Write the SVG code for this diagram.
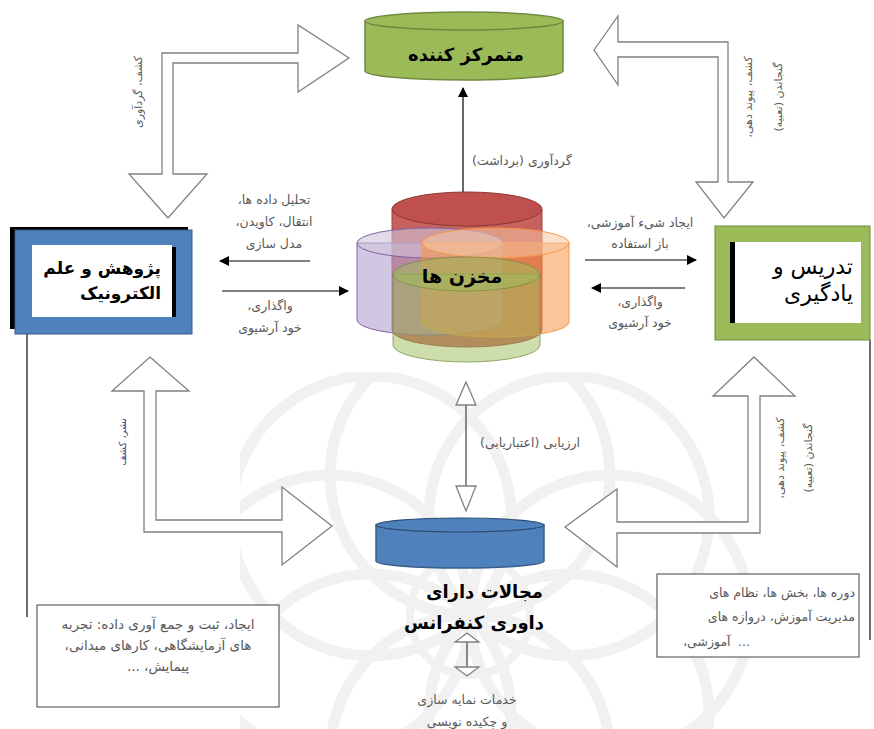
<svg xmlns="http://www.w3.org/2000/svg" width="874" height="729" viewBox="0 0 874 729">
<defs>
<style>
.lbl{font-family:"DejaVu Sans",sans-serif;font-size:12.5px;fill:#595959;}
.rot{font-family:"DejaVu Sans",sans-serif;font-size:11px;fill:#595959;}
.ttl{font-family:"DejaVu Sans",sans-serif;font-size:18px;fill:#000;}
.bold{font-weight:bold;}
.blk{fill:#fff;stroke:#808080;stroke-width:1.3;}
.ln{stroke:#000;stroke-width:1.2;fill:none;}
.gl{stroke:#6e6e6e;stroke-width:2;fill:none;}
.box{fill:#fff;stroke:#404040;stroke-width:1;}
.wm{fill:none;stroke:#f1f1f1;stroke-width:11;}
</style>
<marker id="ah" viewBox="0 0 10 10" refX="9" refY="5" markerWidth="10" markerHeight="10" markerUnits="userSpaceOnUse" orient="auto">
<path d="M0,0 L10,5 L0,10 Z" fill="#000"/>
</marker>
<clipPath id="wmclip"><rect x="240" y="372" width="634" height="357"/></clipPath>
</defs>
<rect width="874" height="729" fill="#fff"/>

<g id="watermark" clip-path="url(#wmclip)">
<g class="wm" transform="translate(470,615)">
<circle cx="0" cy="-140" r="140"/>
<circle cx="99" cy="-99" r="140"/>
<circle cx="140" cy="0" r="140"/>
<circle cx="99" cy="99" r="140"/>
<circle cx="0" cy="140" r="140"/>
<circle cx="-99" cy="99" r="140"/>
<circle cx="-140" cy="0" r="140"/>
<circle cx="-99" cy="-99" r="140"/>
<circle cx="0" cy="0" r="60" stroke-width="8"/>
</g>
</g>

<g id="connectors">
<polygon class="blk" points="349,58 298,25 298,53 162,53 162,174 129,174 168,218 207,174 173,174 173,63 298,63 298,92"/>
<polygon class="blk" points="594,50 618,16 618,42 728,42 728,182 753,182 724,218 696,182 718,182 718,57 618,57 618,85"/>
<polygon class="blk" points="150,357 189,391 156,391 156,520 282,520 282,487 332,526 282,565 282,532 144,532 144,391 112,391"/>
<polygon class="blk" points="754,357 795,396 760,396 760,533 617,533 617,567 565,527 617,489 617,522 748,522 748,396 713,396"/>
<line class="ln" x1="463" y1="196" x2="463" y2="88" marker-end="url(#ah)"/>
<line class="ln" x1="310" y1="261" x2="220" y2="261" marker-end="url(#ah)"/>
<line class="ln" x1="222" y1="291" x2="348" y2="291" marker-end="url(#ah)"/>
<line class="ln" x1="585" y1="260" x2="696" y2="260" marker-end="url(#ah)"/>
<line class="ln" x1="685" y1="288" x2="592" y2="288" marker-end="url(#ah)"/>
<line x1="466" y1="404" x2="466" y2="486" stroke="#404040" stroke-width="1.2"/>
<polygon class="blk" points="466,382 476,405 456,405"/>
<polygon class="blk" points="466,511 476,486 456,486"/>
<line x1="467" y1="642" x2="467" y2="667" stroke="#404040" stroke-width="1.2"/>
<polygon class="blk" points="467,633 479,642 455,642"/>
<polygon class="blk" points="467,676 479,667 455,667"/>
<line class="gl" x1="27" y1="334" x2="27" y2="617"/>
<line class="gl" x1="870" y1="340" x2="870" y2="640"/>
<text class="lbl" x="472" y="165">گردآوری (برداشت)&#x200F;</text>
<text class="rot" transform="translate(142,92) rotate(-90)" text-anchor="middle">کشف، گردآوری&#x200F;</text>
<text class="rot" transform="translate(752,97) rotate(-90)" text-anchor="middle">کشف، پیوند دهی،&#x200F;</text>
<text class="rot" transform="translate(782,97) rotate(-90)" text-anchor="middle">گنجاندن (تعبیه)&#x200F;</text>
<text class="rot" transform="translate(126,442) rotate(-90)" text-anchor="middle" style="fill:#403f7a;font-size:10px">نشر، کشف&#x200F;</text>
<text class="rot" transform="translate(784,458) rotate(-90)" text-anchor="middle">کشف، پیوند دهی،&#x200F;</text>
<text class="rot" transform="translate(812,458) rotate(-90)" text-anchor="middle">گنجاندن (تعبیه)&#x200F;</text>
<g text-anchor="middle">
<text class="lbl" x="274" y="204">تحلیل داده ها،&#x200F;</text>
<text class="lbl" x="274" y="226">انتقال، کاویدن،&#x200F;</text>
<text class="lbl" x="274" y="248">مدل سازی&#x200F;</text>
<text class="lbl" x="270" y="310">واگذاری،&#x200F;</text>
<text class="lbl" x="270" y="332">خود آرشیوی&#x200F;</text>
<text class="lbl" x="640" y="227">ایجاد شیء آموزشی،&#x200F;</text>
<text class="lbl" x="640" y="248">باز استفاده&#x200F;</text>
<text class="lbl" x="640" y="306">واگذاری،&#x200F;</text>
<text class="lbl" x="640" y="327">خود آرشیوی&#x200F;</text>
<text class="lbl" x="467" y="704">خدمات نمایه سازی&#x200F;</text>
<text class="lbl" x="467" y="726">و چکیده نویسی&#x200F;</text>
</g>
<text class="lbl" x="530" y="447" text-anchor="middle">ارزیابی (اعتباریابی)&#x200F;</text>
</g>

<g id="node-top">
<path d="M365,21 L365,71 A99,9 0 0 0 563,71 L563,21 Z" fill="#9bbb59" stroke="#71893f" stroke-width="1.5"/>
<ellipse cx="464" cy="21" rx="99" ry="9" fill="#9bbb59" stroke="#71893f" stroke-width="1.5"/>
<text class="ttl bold" x="466" y="61" text-anchor="middle">متمرکز کننده&#x200F;</text>
</g>

<g id="node-repos">
<path d="M392,209 L392,330 A75,17 0 0 0 542,330 L542,209 Z" fill="#c0504d" fill-opacity="0.9" stroke="#a5403d"/>
<ellipse cx="467" cy="209" rx="75" ry="17" fill="#c0504d" stroke="#8c3836" stroke-width="1"/>
<path d="M357,243 L357,320 A73,15 0 0 0 503,320 L503,243 Z" fill="#b4a2cf" fill-opacity="0.6" stroke="#8064a2"/>
<ellipse cx="430" cy="243" rx="73" ry="15" fill="#cfc4dc" fill-opacity="0.6" stroke="#8064a2"/>
<path d="M422,243 L422,322 A73.5,15 0 0 0 569,322 L569,243 Z" fill="#f79646" fill-opacity="0.55" stroke="#f79646"/>
<ellipse cx="495.5" cy="243" rx="73.5" ry="15" fill="#f7c9a3" fill-opacity="0.55" stroke="#f79646"/>
<path d="M393,274 L393,345 A73.5,17 0 0 0 540,345 L540,274 Z" fill="#9bbb59" fill-opacity="0.5" stroke="#71893f" stroke-opacity="0.7"/>
<ellipse cx="466.5" cy="274" rx="73.5" ry="17" fill="#9bbb59" fill-opacity="0.55" stroke="#71893f" stroke-opacity="0.7"/>
<text class="ttl bold" x="462" y="283" text-anchor="middle" style="font-size:19px">مخزن ها&#x200F;</text>
</g>

<g id="node-research">
<rect x="10" y="227" width="178" height="102" fill="#000"/>
<rect x="15" y="230" width="177" height="104" fill="#4f81bd" stroke="#385d8a"/>
<rect x="36" y="247" width="140" height="70" fill="#000"/>
<rect x="32" y="245" width="140" height="72" fill="#fff"/>
<text class="ttl bold" x="161" y="274" text-anchor="end" style="font-size:17px">پژوهش و علم&#x200F;</text>
<text class="ttl bold" x="161" y="299" text-anchor="end" style="font-size:17px">الکترونیک&#x200F;</text>
</g>

<g id="node-teaching">
<rect x="715" y="226" width="155" height="114" fill="#9bbb59" stroke="#71893f"/>
<rect x="730" y="242" width="130" height="81" fill="#000"/>
<rect x="735" y="242" width="126" height="81" fill="#fff"/>
<text class="ttl" x="853" y="274" text-anchor="end" style="font-size:22px">تدریس و&#x200F;</text>
<text class="ttl" x="853" y="301" text-anchor="end" style="font-size:22px">یادگیری&#x200F;</text>
</g>

<g id="node-journals">
<path d="M376,525 L376,561 A84,7 0 0 0 544,561 L544,525 Z" fill="#4f81bd" stroke="#385d8a" stroke-width="1.5"/>
<ellipse cx="460" cy="525" rx="84" ry="7" fill="#4f81bd" stroke="#2c4d75" stroke-width="1.2"/>
<text class="ttl bold" x="543" y="598" text-anchor="end">مجالات دارای&#x200F;</text>
<text class="ttl bold" x="544" y="629" text-anchor="end">داوری کنفرانس&#x200F;</text>
</g>

<g id="node-data">
<rect class="box" x="37" y="605" width="242" height="102"/>
<text class="lbl" x="158" y="629" text-anchor="middle" style="font-size:13.5px">ایجاد، ثبت و جمع آوری داده: تجربه&#x200F;</text>
<text class="lbl" x="158" y="650" text-anchor="middle" style="font-size:13.5px">های آزمایشگاهی، کارهای میدانی،&#x200F;</text>
<text class="lbl" x="158" y="671" text-anchor="middle" style="font-size:13.5px">پیمایش، ...&#x200F;</text>
</g>

<g id="node-courses">
<rect class="box" x="657" y="574" width="202" height="83"/>
<text class="lbl" x="855" y="597" text-anchor="end">دوره ها، بخش ها، نظام های&#x200F;</text>
<text class="lbl" x="855" y="621" text-anchor="end">مدیریت آموزش،  دروازه های&#x200F;</text>
<text class="lbl" x="683" y="646">آموزشی،&#x200F;</text>
<text class="lbl" x="738" y="646">...</text>
</g>
</svg>
